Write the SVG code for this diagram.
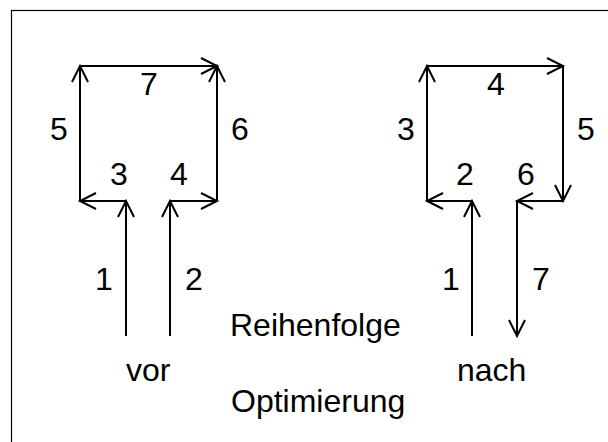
<svg xmlns="http://www.w3.org/2000/svg" width="608" height="442" viewBox="0 0 608 442">
<style>
.t{font-family:"Liberation Sans",Arial,sans-serif;font-size:32px;fill:#000}
.m{text-anchor:middle}
.c line{stroke:#000;stroke-width:2;marker-end:url(#ah)}
</style>
<defs>
<marker id="ah" markerUnits="userSpaceOnUse" markerWidth="22" markerHeight="22" viewBox="-19 -11 22 22" refX="0" refY="0" orient="auto">
<path d="M-16,-8 L0,0 L-16,8" fill="none" stroke="#000" stroke-width="2"/>
</marker>
</defs>
<rect x="0" y="0" width="608" height="442" fill="#fff"/>
<rect id="frame" x="11.5" y="10.5" width="700" height="500" fill="none" stroke="#000" stroke-width="1.2"/>
<g id="connectors" class="c">
<line x1="126" y1="336" x2="126" y2="201"/>
<line x1="170" y1="336" x2="170" y2="201"/>
<line x1="126" y1="201" x2="80" y2="201"/>
<line x1="170" y1="201" x2="217" y2="201"/>
<line x1="80" y1="201" x2="80" y2="66"/>
<line x1="217" y1="201" x2="217" y2="66"/>
<line x1="80" y1="66" x2="217" y2="66"/>
<line x1="472" y1="336" x2="472" y2="201"/>
<line x1="472" y1="201" x2="427" y2="201"/>
<line x1="427" y1="201" x2="427" y2="66"/>
<line x1="427" y1="66" x2="563" y2="66"/>
<line x1="563" y1="66" x2="563" y2="201"/>
<line x1="563" y1="201" x2="517" y2="201"/>
<line x1="517" y1="201" x2="517" y2="336"/>
</g>
<g id="labels-vor">
<text class="t m" x="104" y="290">1</text>
<text class="t m" x="194" y="290">2</text>
<text class="t m" x="119" y="185">3</text>
<text class="t m" x="179" y="185">4</text>
<text class="t m" x="59" y="140">5</text>
<text class="t m" x="240" y="140">6</text>
<text class="t m" x="149" y="95">7</text>
</g>
<g id="labels-nach">
<text class="t m" x="451" y="290">1</text>
<text class="t m" x="465" y="185">2</text>
<text class="t m" x="406" y="140">3</text>
<text class="t m" x="496" y="95">4</text>
<text class="t m" x="586" y="140">5</text>
<text class="t m" x="526" y="185">6</text>
<text class="t m" x="541" y="290">7</text>
</g>
<g id="captions">
<text id="reihenfolge" class="t" x="230" y="336">Reihenfolge</text>
<text id="vor" class="t" x="126" y="381">vor</text>
<text id="nach" class="t" x="457" y="381">nach</text>
<text id="optimierung" class="t" x="231" y="412">Optimierung</text>
</g>
</svg>
